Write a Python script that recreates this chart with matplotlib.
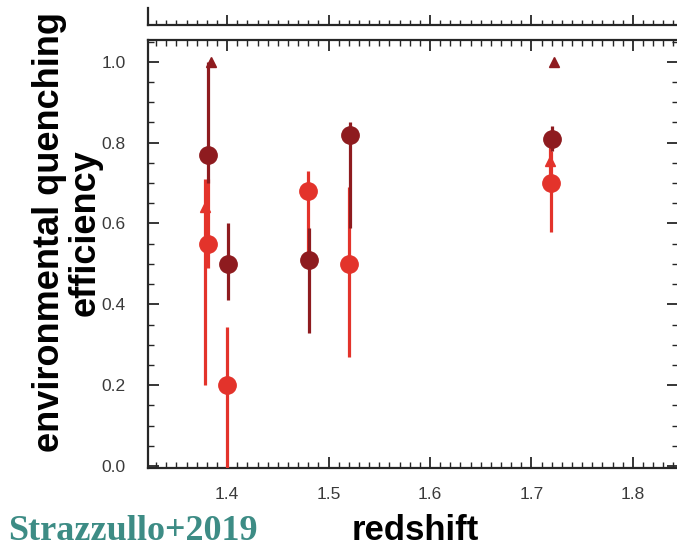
import matplotlib
matplotlib.use('Agg')
import matplotlib.pyplot as plt
from matplotlib.ticker import MultipleLocator, FormatStrFormatter
import numpy as np

# quenching efficiency vs redshift, two cluster samples
z_dark = [1.381, 1.401, 1.481, 1.521, 1.720]
q_dark = [0.77, 0.50, 0.51, 0.82, 0.81]
lo_dark = [0.70, 0.41, 0.33, 0.59, 0.78]
hi_dark = [1.00, 0.60, 0.59, 0.85, 0.84]

z_red = [1.381, 1.400, 1.480, 1.520, 1.719]
q_red = [0.55, 0.20, 0.68, 0.50, 0.70]
lo_red = [0.49, -0.05, 0.50, 0.27, 0.58]
hi_red = [0.71, 0.345, 0.73, 0.69, 0.78]

# limits drawn as triangles
z_tri_dark = [1.384, 1.722]
q_tri_dark = [1.00, 1.00]

z_tri_red = [1.378, 1.718]
q_tri_red = [0.64, 0.755]
lo_tri_red = [0.20, 0.72]
hi_tri_red = [0.71, 0.80]

DARK = '#8e1b1f'
RED = '#e3332b'
AXC = '#262626'

plt.rcParams['font.family'] = 'Liberation Sans'

fig = plt.figure(figsize=(6.77, 5.47), dpi=100)
W, H = 677.0, 547.0

# upper panel, only its lower strip is shown
axt = fig.add_axes([148 / W, 1 - 25 / H, 530 / W, 17 / H])
axt.set_xlim(1.322, 1.8445)
axt.set_yticks([])
axt.xaxis.set_major_locator(MultipleLocator(0.1))
axt.xaxis.set_minor_locator(MultipleLocator(0.01))
axt.tick_params(axis='x', which='both', direction='in', bottom=True, top=False,
                labelbottom=False, colors=AXC)
axt.tick_params(axis='x', which='major', length=7, width=1.3)
axt.tick_params(axis='x', which='minor', length=3.5, width=1.0)
axt.spines['top'].set_visible(False)
axt.spines['right'].set_visible(False)
for s in axt.spines.values():
    s.set_linewidth(1.6)
    s.set_color(AXC)

ax = fig.add_axes([148 / W, (H - 468) / H, 530 / W, 428 / H])
ax.set_xlim(1.322, 1.8445)
ax.set_ylim(-0.005, 1.054)


def draw(z, q, lo, hi, color, marker, ms):
    z = np.asarray(z)
    q = np.asarray(q)
    yerr = [q - np.asarray(lo), np.asarray(hi) - q]
    ax.errorbar(z, q, yerr=yerr, fmt=marker, color=color, ms=ms,
                elinewidth=2.3, capsize=0, mec=color, zorder=3)


draw(z_tri_red, q_tri_red, lo_tri_red, hi_tri_red, RED, '^', 7)
draw(z_red, q_red, lo_red, hi_red, RED, 'o', 12.5)
draw(z_dark, q_dark, lo_dark, hi_dark, DARK, 'o', 12.5)
ax.plot(z_tri_dark, q_tri_dark, '^', color=DARK, ms=7, zorder=4)

ax.xaxis.set_major_locator(MultipleLocator(0.1))
ax.xaxis.set_minor_locator(MultipleLocator(0.01))
ax.yaxis.set_major_locator(MultipleLocator(0.2))
ax.yaxis.set_minor_locator(MultipleLocator(0.05))
ax.xaxis.set_major_formatter(FormatStrFormatter('%.1f'))
ax.yaxis.set_major_formatter(FormatStrFormatter('%.1f'))
ax.tick_params(which='both', direction='in', top=True, right=True,
               colors=AXC, labelcolor='#3a3a3a', labelsize=12.5)
ax.tick_params(which='major', length=8, width=1.3)
ax.tick_params(axis='x', which='major', pad=14)
ax.tick_params(axis='y', which='major', pad=16)
ax.tick_params(which='minor', length=4, width=1.0)
for s in ax.spines.values():
    s.set_linewidth(1.6)
    s.set_color(AXC)

ax.set_ylabel('environmental quenching\nefficiency', fontsize=26,
              fontweight='bold', multialignment='center', linespacing=1.05)
ax.yaxis.set_label_coords(-0.152, 0.551)
ax.yaxis.label.set_va('center')

ax.set_xlabel('redshift', fontsize=25, fontweight='bold')
ax.xaxis.set_label_coords(0.504, -0.145)
ax.xaxis.label.set_va('center')

fig.text(8 / W, (H - 532) / H, 'Strazzullo+2019', color='#3d8c85',
         fontsize=26, family='Liberation Serif', fontweight='bold',
         ha='left', va='center')

fig.savefig('out.png', dpi=100, facecolor='white')
